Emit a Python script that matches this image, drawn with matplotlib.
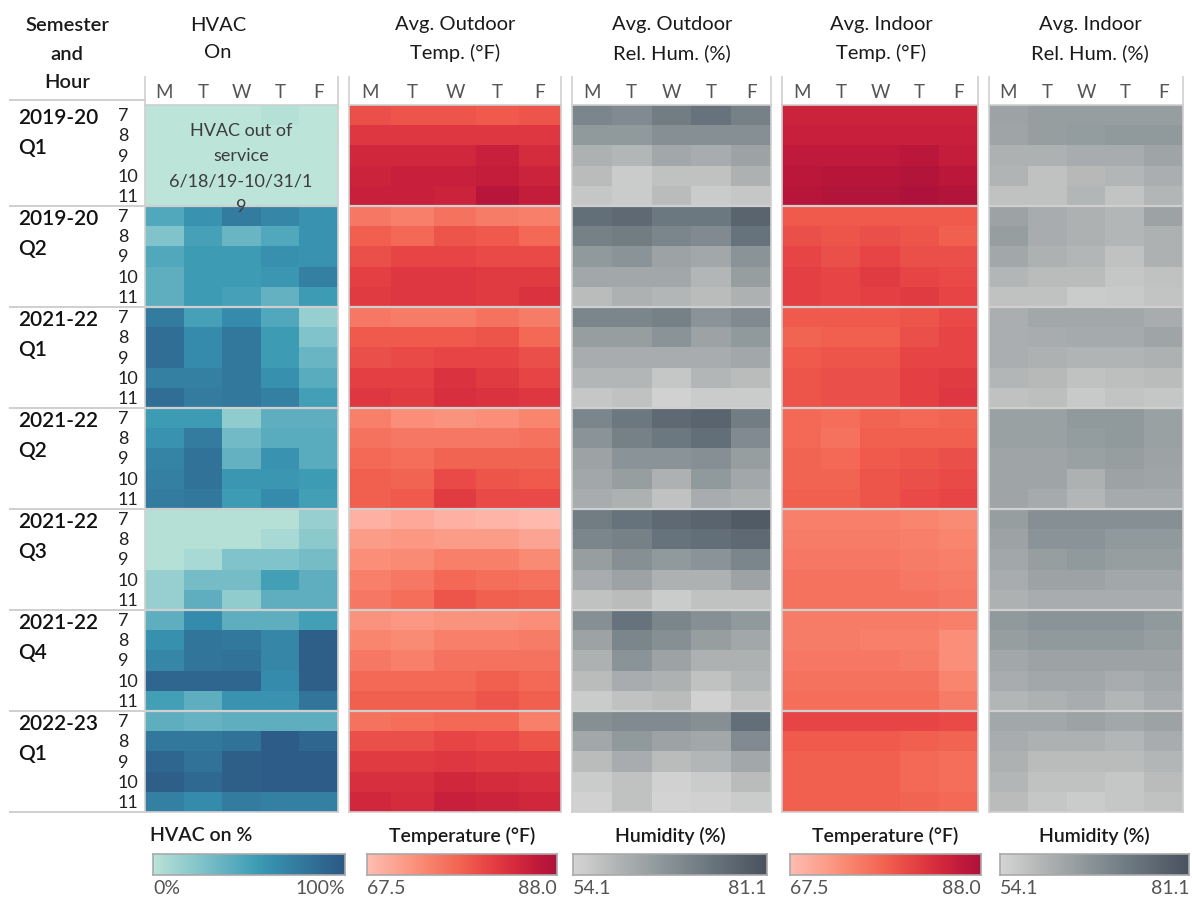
import matplotlib
matplotlib.use("Agg")
import matplotlib.pyplot as plt
import numpy as np
from matplotlib.colors import LinearSegmentedColormap
from matplotlib.lines import Line2D

plt.rcParams['font.family'] = ['Lato', 'DejaVu Sans']

# ---------------- data ----------------
semesters = ["2019-20\nQ1", "2019-20\nQ2", "2021-22\nQ1", "2021-22\nQ2",
             "2021-22\nQ3", "2021-22\nQ4", "2022-23\nQ1"]
hours = ["7", "8", "9", "10", "11"]
days = ["M", "T", "W", "T", "F"]

hvac_on = [
    [0, 0, 0, 3, 0], [0, 0, 0, 0, 0], [0, 0, 0, 0, 0], [0, 0, 0, 0, 0], [0, 0, 0, 0, 0],
    [45, 60, 75, 68, 60], [25, 50, 35, 45, 60], [45, 55, 55, 62, 60], [40, 55, 55, 58, 72], [40, 55, 50, 38, 55],
    [75, 50, 65, 45, 15], [85, 65, 78, 55, 25], [85, 65, 78, 55, 35], [72, 72, 78, 62, 42], [85, 75, 78, 72, 52],
    [55, 55, 18, 40, 40], [60, 75, 32, 42, 42], [70, 82, 38, 60, 42], [72, 82, 58, 58, 55], [75, 78, 55, 65, 52],
    [3, 3, 3, 3, 15], [3, 3, 3, 8, 20], [3, 8, 25, 25, 30], [15, 30, 30, 52, 40], [15, 40, 18, 40, 40],
    [40, 65, 40, 40, 52], [62, 80, 78, 68, 95], [68, 80, 82, 68, 95], [90, 90, 90, 65, 95], [52, 40, 60, 60, 80],
    [40, 37, 40, 40, 40], [78, 78, 82, 98, 90], [90, 82, 95, 98, 98], [95, 88, 95, 98, 98], [72, 65, 75, 72, 72],
]

outdoor_temp = [
    [79.5, 79.0, 79.0, 78.5, 79.0], [82.0, 82.0, 82.0, 82.0, 82.0], [84.0, 84.0, 84.0, 85.0, 83.5],
    [84.5, 85.0, 85.0, 85.5, 84.5], [85.0, 85.0, 84.5, 87.0, 85.5],
    [75.5, 74.5, 76.0, 75.0, 74.5], [78.0, 77.0, 79.0, 78.5, 77.0], [79.5, 80.5, 80.5, 80.0, 80.0],
    [81.0, 82.0, 82.0, 81.5, 81.5], [81.5, 82.0, 82.0, 81.5, 82.5],
    [75.5, 75.0, 75.0, 76.0, 75.0], [78.5, 78.5, 78.5, 79.0, 77.0], [79.5, 80.0, 80.5, 80.5, 79.5],
    [81.0, 81.0, 82.5, 81.5, 80.5], [82.0, 81.5, 83.0, 82.5, 82.0],
    [74.5, 73.0, 72.5, 73.0, 74.0], [76.0, 75.5, 75.5, 75.5, 76.0], [77.0, 76.5, 77.5, 77.5, 77.5],
    [78.0, 77.5, 80.0, 79.0, 78.5], [78.0, 78.5, 81.5, 80.0, 80.0],
    [69.0, 70.0, 69.0, 68.5, 68.0], [71.5, 72.0, 71.5, 71.5, 70.5], [73.0, 73.5, 74.5, 74.5, 73.5],
    [74.5, 75.5, 77.0, 76.5, 76.0], [75.5, 76.5, 79.0, 78.0, 77.5],
    [72.5, 72.0, 72.5, 72.5, 73.0], [74.0, 73.5, 74.5, 74.5, 75.0], [75.5, 74.5, 76.0, 76.0, 76.0],
    [77.0, 77.0, 77.0, 78.0, 77.0], [78.0, 78.0, 78.0, 79.0, 78.0],
    [76.0, 76.5, 77.0, 77.0, 74.5], [79.5, 79.5, 80.5, 80.0, 79.0], [81.5, 81.5, 82.0, 81.5, 81.5],
    [83.0, 83.0, 84.0, 83.5, 83.0], [84.0, 83.5, 85.0, 84.5, 84.0],
]

outdoor_hum = [
    [70, 69, 72, 74, 71], [66, 66, 68, 68, 68], [61, 60, 63, 62, 64], [59, 56, 58, 58, 61], [57, 56, 59, 56, 57],
    [75, 76, 73, 73, 77], [71, 72, 70, 69, 74], [66, 67, 64, 63, 67], [63, 63, 63, 60, 65], [59, 61, 60, 59, 61],
    [70, 70, 71, 67, 69], [65, 65, 67, 64, 66], [62, 62, 62, 62, 63], [60, 60, 57, 60, 59], [57, 58, 55, 56, 56],
    [70, 73, 76, 77, 72], [67, 71, 73, 75, 69], [64, 67, 67, 68, 65], [63, 65, 61, 66, 63], [62, 61, 58, 62, 61],
    [72, 74, 76, 77, 79], [70, 71, 74, 75, 76], [65, 68, 66, 67, 70], [62, 64, 61, 61, 64], [58, 59, 56, 58, 58],
    [68, 74, 70, 68, 66], [64, 70, 68, 65, 63], [61, 67, 64, 61, 61], [59, 62, 61, 58, 60], [56, 58, 59, 55, 58],
    [68, 69, 69, 68, 75], [63, 66, 64, 63, 69], [59, 62, 59, 60, 63], [56, 58, 55, 56, 59], [55, 58, 54.5, 55, 56],
]

indoor_temp = [
    [84.5, 84.5, 84.5, 84.5, 84.5], [85.0, 85.0, 85.0, 85.0, 85.0], [86.0, 86.0, 86.0, 86.5, 85.5],
    [86.5, 87.0, 87.0, 87.5, 86.5], [87.0, 87.5, 87.5, 88.0, 87.5],
    [78.5, 78.5, 78.5, 78.5, 78.5], [79.5, 79.0, 79.5, 79.0, 78.0], [80.5, 79.5, 80.5, 79.5, 79.5],
    [81.0, 80.5, 81.5, 80.5, 80.0], [81.0, 80.5, 81.0, 81.5, 80.5],
    [78.5, 78.5, 78.5, 79.0, 80.0], [77.5, 78.0, 78.0, 79.5, 80.5], [78.5, 79.0, 79.0, 80.5, 80.5],
    [79.0, 79.5, 79.5, 81.0, 81.5], [79.0, 79.5, 79.5, 81.0, 82.0],
    [77.0, 76.5, 77.5, 77.0, 77.5], [77.0, 76.0, 78.0, 78.0, 78.0], [77.5, 77.0, 78.5, 79.0, 79.5],
    [77.5, 77.5, 79.0, 79.5, 80.0], [78.0, 78.0, 79.0, 80.0, 80.5],
    [74.5, 74.5, 74.5, 74.0, 73.5], [75.0, 75.0, 75.0, 74.5, 74.0], [75.5, 75.5, 75.5, 75.0, 74.5],
    [76.0, 76.0, 76.0, 75.5, 75.0], [76.0, 76.0, 76.0, 76.0, 75.5],
    [75.0, 75.0, 75.0, 75.0, 74.5], [75.0, 75.0, 74.5, 74.5, 73.0], [75.5, 75.5, 75.5, 75.0, 73.0],
    [76.0, 76.0, 76.0, 76.0, 74.0], [76.5, 76.5, 76.5, 76.5, 75.0],
    [80.5, 80.5, 80.5, 80.5, 80.0], [78.5, 78.5, 78.5, 78.0, 77.5], [78.0, 78.0, 78.0, 77.0, 76.5],
    [78.0, 78.0, 78.0, 77.0, 76.5], [78.0, 78.0, 78.0, 77.5, 77.0],
]

indoor_hum = [
    [64, 65, 65, 65, 65], [63.5, 65, 65.5, 66, 66], [61, 61, 62, 62, 63.5], [60.5, 58, 59.5, 60, 61.5], [58, 58, 60, 57.5, 60],
    [64, 62, 61, 60, 64], [65, 62, 61, 60, 61], [63, 61, 60, 58, 61], [60, 59, 59, 57, 58], [58, 58, 56, 56.5, 57.5],
    [61.5, 63, 63, 63, 62], [61.5, 62, 62.5, 62.5, 63.5], [61.5, 61, 60.5, 60.5, 61], [60, 59.5, 58, 58.5, 59], [58, 58.5, 56.5, 57.5, 57],
    [64.5, 64.5, 66, 66, 64.5], [64.5, 64.5, 65.5, 66, 64.5], [63.5, 63.5, 64.5, 65, 64], [63.5, 63.5, 61, 64, 63.5], [63.5, 62.5, 60, 62.5, 62.5],
    [65, 68, 68, 68, 68], [64, 67, 67, 66, 66], [63, 65, 66, 65, 65], [62, 64, 64, 63, 63], [61, 62, 62, 62, 62],
    [66, 67, 67, 67, 66], [65, 66, 66, 66, 65], [63, 64, 64, 64, 64], [62, 63, 63, 62, 63], [60, 61, 62, 60, 62],
    [63, 63, 64, 63, 64], [62, 61, 61, 60, 62], [61, 59, 59, 59, 60], [60, 58, 58, 57, 59], [59, 57, 56, 57, 58],
]

hvac_range = (0, 100)
temp_range = (67.5, 88.0)
hum_range = (54.1, 81.1)

# ---------------- colormaps ----------------
blue_teal = LinearSegmentedColormap.from_list("blueteal", [
    '#bce4d8', '#aedcd5', '#a1d5d2', '#95cecf', '#89c8cc', '#7ec1ca', '#72bac6', '#66b2c2',
    '#59acbe', '#4ba5ba', '#419eb6', '#3b96b2', '#358ead', '#3586a7', '#347ea1', '#32779b',
    '#316f96', '#2f6790', '#2d608a', '#2c5985'])
reds = LinearSegmentedColormap.from_list("reds", [
    '#ffbeb2', '#feb4a6', '#fdab9b', '#fca290', '#fb9984', '#fa8f79', '#f9856e', '#f77b66',
    '#f5715d', '#f36754', '#f05c4d', '#ec5049', '#e74545', '#e13b42', '#da323f', '#d3293d',
    '#ca223c', '#c11a3b', '#b8163a', '#ae123a'])
grays = LinearSegmentedColormap.from_list("grays", [
    '#d5d5d5', '#cdcecd', '#c5c7c6', '#bcbfbe', '#b4b7b7', '#acb0b1', '#a4a9ab', '#9ca3a4',
    '#939c9e', '#8b9598', '#848e93', '#7c878d', '#758087', '#6e7a81', '#67737c', '#616c77',
    '#5b6570', '#555f6a', '#4f5864', '#49525e'])

W, H = 1192, 904
fig = plt.figure(figsize=(W / 100, H / 100), dpi=100)


def rect(x, y, w, h):
    return [x / W, 1 - (y + h) / H, w / W, h / H]


def ftext(x, y, s, **kw):
    fig.text(x / W, 1 - y / H, s, **kw)


def fline(x0, x1, y0, y1, **kw):
    fig.add_artist(Line2D([x0 / W, x1 / W], [1 - y0 / H, 1 - y1 / H],
                          transform=fig.transFigure, **kw))


GRID = '#cfcfcf'
top, bottom = 106, 813
ngroups = len(semesters)
gh = (bottom - top) / ngroups

panels = [
    (145, 338, hvac_on, blue_teal, hvac_range, "HVAC\nOn", 218),
    (349, 561, outdoor_temp, reds, temp_range, "Avg. Outdoor\nTemp. (°F)", 455),
    (572, 771, outdoor_hum, grays, hum_range, "Avg. Outdoor\nRel. Hum. (%)", 672),
    (782, 978, indoor_temp, reds, temp_range, "Avg. Indoor\nTemp. (°F)", 881),
    (989, 1183, indoor_hum, grays, hum_range, "Avg. Indoor\nRel. Hum. (%)", 1090),
]

for (x0, x1, data, cmap, rng, title, tx) in panels:
    arr = np.array(data, dtype=float)
    ax = fig.add_axes(rect(x0, top, x1 - x0, bottom - top))
    ax.pcolormesh(np.arange(6), np.arange(arr.shape[0] + 1), arr, cmap=cmap,
                  vmin=rng[0], vmax=rng[1], shading='flat')
    ax.set_xlim(0, 5)
    ax.set_ylim(arr.shape[0], 0)
    ax.set_xticks([]); ax.set_yticks([])
    for k in range(1, ngroups):
        ax.axhline(k * 5, color=GRID, lw=1.6)
    for sp in ax.spines.values():
        sp.set_color(GRID); sp.set_linewidth(1.2)
    # header
    ftext(tx, 39, title, ha='center', va='center', fontsize=14.5,
          color='#1a1a1a', linespacing=1.78)
    fline(x0, x0, 78, top, color=GRID, lw=1.2)
    fline(x1, x1, 78, top, color=GRID, lw=1.2)
    cw = (x1 - x0) / 5
    for i, d in enumerate(days):
        ftext(x0 + cw * (i + 0.5), 92, d, ha='center', va='center',
              fontsize=13.5, color='#555555')

# annotation on HVAC panel
ftext(241, 169, "HVAC out of\nservice\n6/18/19-10/31/1\n9", ha='center', va='center',
      fontsize=13, color='#3c3c3c', linespacing=1.74)

# row header
ftext(67, 54, "Semester\nand\nHour", ha='center', va='center', fontsize=14.5,
      color='#1a1a1a', fontweight='semibold', linespacing=1.85)
fline(10, 145, 101, 101, color=GRID, lw=1.4)
for g in range(ngroups):
    gy = top + g * gh
    lines = semesters[g].split("\n")
    ftext(18, gy + 12, lines[0], ha='left', va='center', fontsize=15,
          color='#111111', fontweight='semibold')
    ftext(18, gy + 42, lines[1], ha='left', va='center', fontsize=15,
          color='#111111', fontweight='semibold')
    for h, lab in enumerate(hours):
        ftext(118, gy + (h + 0.5) * gh / 5, lab, ha='left', va='center',
              fontsize=13, color='#222222')
    if g > 0:
        fline(10, 145, gy, gy, color=GRID, lw=1.4)
fline(10, 145, bottom, bottom, color=GRID, lw=1.4)

# ---------------- legends ----------------
legends = [
    (153, 345, blue_teal, "HVAC on %", "0%", "100%", 'left'),
    (367, 557, reds, "Temperature (°F)", f"{temp_range[0]:.1f}", f"{temp_range[1]:.1f}", 'center'),
    (573, 767, grays, "Humidity (%)", f"{hum_range[0]:.1f}", f"{hum_range[1]:.1f}", 'center'),
    (790, 981, reds, "Temperature (°F)", f"{temp_range[0]:.1f}", f"{temp_range[1]:.1f}", 'center'),
    (1000, 1189, grays, "Humidity (%)", f"{hum_range[0]:.1f}", f"{hum_range[1]:.1f}", 'center'),
]
grad = np.linspace(0, 1, 256)[None, :]
for (x0, x1, cmap, title, lo, hi, align) in legends:
    cax = fig.add_axes(rect(x0, 855, x1 - x0, 21))
    cax.imshow(grad, aspect='auto', cmap=cmap, extent=(0, 1, 0, 1))
    cax.set_xticks([]); cax.set_yticks([])
    for sp in cax.spines.values():
        sp.set_color('#a9a9a9'); sp.set_linewidth(1.2)
    if align == 'left':
        ftext(x0 - 3, 836, title, ha='left', va='center', fontsize=14,
              color='#1a1a1a', fontweight='semibold')
    else:
        ftext((x0 + x1) / 2, 836, title, ha='center', va='center', fontsize=14,
              color='#1a1a1a', fontweight='semibold')
    ftext(x0, 889, lo, ha='left', va='center', fontsize=14, color='#555555')
    ftext(x1, 889, hi, ha='right', va='center', fontsize=14, color='#555555')

fig.savefig("out.png", dpi=100, facecolor='white')
